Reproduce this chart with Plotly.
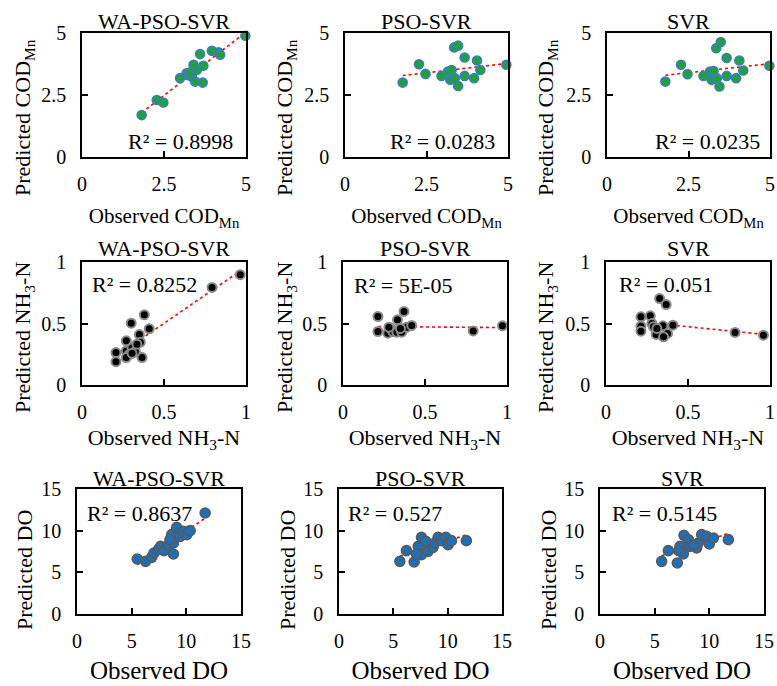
import numpy as np
import plotly.graph_objects as go

W, H = 777, 686
FONT = "Liberation Serif"

# ---------------- data ----------------
cod_wa_x = [1.82, 2.28, 2.48, 2.99, 3.19, 3.35, 3.40, 3.50, 3.45, 3.60, 3.68, 3.70, 3.96, 4.16, 4.21, 4.98, 3.25, 3.30]
cod_wa_y = [1.69, 2.30, 2.20, 3.18, 3.38, 3.24, 3.72, 3.51, 3.04, 4.15, 3.00, 3.68, 4.28, 4.22, 4.12, 4.89, 3.30, 3.42]

cod_pso_x = [1.77, 2.27, 2.47, 2.96, 3.16, 3.27, 3.23, 3.37, 3.35, 3.47, 3.47, 3.67, 3.67, 3.96, 4.05, 4.15, 4.95]
cod_pso_y = [3.00, 3.74, 3.35, 3.27, 3.45, 3.51, 3.11, 3.18, 4.42, 4.49, 2.86, 3.27, 4.01, 3.18, 3.89, 3.51, 3.72]

cod_svr_x = [1.79, 2.27, 2.47, 2.96, 3.16, 3.27, 3.21, 3.37, 3.35, 3.49, 3.45, 3.67, 3.67, 3.96, 4.06, 4.18, 4.98]
cod_svr_y = [3.04, 3.72, 3.34, 3.27, 3.45, 3.47, 3.11, 3.18, 4.39, 4.64, 2.84, 3.27, 3.99, 3.18, 3.89, 3.49, 3.68]

nh_wa_x = [0.965, 0.793, 0.207, 0.207, 0.27, 0.27, 0.30, 0.38, 0.41, 0.35, 0.356, 0.305, 0.285, 0.27, 0.366, 0.325, 0.305, 0.335]
nh_wa_y = [0.897, 0.793, 0.19, 0.264, 0.277, 0.359, 0.503, 0.571, 0.457, 0.41, 0.348, 0.30, 0.245, 0.223, 0.223, 0.272, 0.258, 0.332]

nh_pso_x = [0.213, 0.213, 0.273, 0.294, 0.304, 0.328, 0.332, 0.372, 0.358, 0.389, 0.419, 0.794, 0.972, 0.28, 0.35]
nh_pso_y = [0.557, 0.435, 0.421, 0.457, 0.435, 0.429, 0.53, 0.598, 0.429, 0.47, 0.484, 0.44, 0.481, 0.47, 0.46]

nh_svr_x = [0.213, 0.213, 0.213, 0.27, 0.28, 0.29, 0.306, 0.327, 0.367, 0.347, 0.375, 0.408, 0.351, 0.787, 0.96, 0.31]
nh_svr_y = [0.554, 0.478, 0.438, 0.562, 0.50, 0.473, 0.411, 0.703, 0.654, 0.481, 0.419, 0.486, 0.392, 0.427, 0.405, 0.46]

do_wa_x = [5.51, 6.27, 6.83, 7.04, 7.44, 7.65, 7.96, 8.36, 8.66, 8.82, 8.82, 9.12, 9.43, 9.73, 10.04, 10.35, 11.72, 8.5]
do_wa_y = [6.6, 6.32, 6.8, 7.32, 7.72, 8.12, 7.6, 8.24, 9.52, 7.2, 8.52, 10.4, 9.32, 9.92, 9.52, 10.0, 12.12, 8.92]

do_pso_x = [5.6, 6.21, 6.92, 7.29, 7.59, 7.59, 7.99, 8.2, 8.66, 8.82, 9.12, 9.43, 9.83, 10.04, 10.35, 11.72, 7.13]
do_pso_y = [6.32, 7.6, 6.24, 8.12, 7.12, 9.2, 8.72, 7.52, 8.0, 8.52, 9.2, 8.8, 9.2, 8.32, 8.8, 8.8, 7.2]

do_svr_x = [5.64, 6.25, 7.07, 7.32, 7.62, 7.68, 8.08, 8.23, 8.84, 8.99, 9.3, 9.76, 10.0, 10.37, 11.74, 7.2, 8.6]
do_svr_y = [6.32, 7.6, 6.12, 8.12, 7.2, 9.44, 8.92, 8.12, 7.92, 8.52, 9.52, 9.32, 8.4, 9.12, 8.92, 7.6, 8.3]

r2_labels = ["R² = 0.8998", "R² = 0.0283", "R² = 0.0235",
             "R² = 0.8252", "R² = 5E-05", "R² = 0.051",
             "R² = 0.8637", "R² = 0.527", "R² = 0.5145"]
model_names = ["WA-PSO-SVR", "PSO-SVR", "SVR"]

x_titles = ["Observed COD<sub>Mn</sub>", "Observed NH<sub>3</sub>-N", "Observed DO"]
y_titles = ["Predicted COD<sub>Mn</sub>", "Predicted NH<sub>3</sub>-N", "Predicted DO"]
tick_vals = [[0, 2.5, 5], [0, 0.5, 1], [0, 5, 10, 15]]
tick_text = [["0", "2.5", "5"], ["0", "0.5", "1"], ["0", "5", "10", "15"]]
ranges = [[0, 5], [0, 1], [0, 15]]

panels = [
    (cod_wa_x, cod_wa_y), (cod_pso_x, cod_pso_y), (cod_svr_x, cod_svr_y),
    (nh_wa_x, nh_wa_y), (nh_pso_x, nh_pso_y), (nh_svr_x, nh_svr_y),
    (do_wa_x, do_wa_y), (do_pso_x, do_pso_y), (do_svr_x, do_svr_y),
]

# ---------------- layout geometry (pixels) ----------------
row_y = [(33, 157), (262, 385), (489, 614)]
col_x = [[(82, 246), (345, 508), (607, 770)],
         [(82, 246), (343, 507), (606, 770)],
         [(77, 241), (339, 502), (600, 764)]]
ytitle_pos = [[(24, 118), (286, 118), (547, 118)],
              [(24, 338), (286, 338), (547, 338)],
              [(24, 570), (287, 570), (548, 570)]]
r2_pos = [  # (x_px, y_px, anchor)
    [(235, 141, "right"), (497, 141, "right"), (762, 141, "right")],
    [(90, 284, "left"), (352, 285, "left"), (617, 284, "left")],
    [(85, 513, "left"), (346, 513, "left"), (610, 513, "left")],
]
title_y = [22, 248, 478]
xtitle_size = [21, 22, 25]
xtitle_standoff = [15, 8, 11]

marker_styles = [
    dict(color="#22A03C", size=9, line=dict(color="#3B7DC4", width=1.6)),
    dict(color="#000000", size=9, line=dict(color="#8A8A8A", width=2)),
    dict(color="#1F6EB8", size=10, line=dict(color="#5A5A5A", width=1.6)),
]


def px(x):
    return x / W


def py(y):
    return 1 - y / H


fig = go.Figure()
annotations = []
layout = {}

for i, (xs, ys) in enumerate(panels):
    r, c = divmod(i, 3)
    n = i + 1
    xa = "x" if n == 1 else f"x{n}"
    ya = "y" if n == 1 else f"y{n}"
    xs_a = np.array(xs)
    ys_a = np.array(ys)
    slope, icpt = np.polyfit(xs_a, ys_a, 1)
    lx = np.array([xs_a.min(), xs_a.max()])
    fig.add_trace(go.Scatter(x=lx, y=slope * lx + icpt, mode="lines",
                             line=dict(color="#FF0000", width=1.6, dash="dot"),
                             xaxis=xa, yaxis=ya, showlegend=False, hoverinfo="skip"))
    fig.add_trace(go.Scatter(x=xs, y=ys, mode="markers", marker=marker_styles[r],
                             xaxis=xa, yaxis=ya, showlegend=False, cliponaxis=False))

    x0, x1 = col_x[r][c]
    y0, y1 = row_y[r]
    axcommon = dict(showline=True, linecolor="black", linewidth=1.5, mirror=True,
                    showgrid=False, zeroline=False, ticks="inside", ticklen=6,
                    tickwidth=1.5, tickcolor="black", automargin=False,
                    tickfont=dict(family=FONT, size=20, color="black"),
                    range=ranges[r], tickvals=tick_vals[r], ticktext=tick_text[r],
                    fixedrange=True)
    layout["xaxis" if n == 1 else f"xaxis{n}"] = dict(
        axcommon, domain=[px(x0), px(x1)], anchor=ya,
        title=dict(text=x_titles[r], font=dict(family=FONT, size=xtitle_size[r], color="black"),
                   standoff=xtitle_standoff[r]),
        ticklabelstandoff=8)
    layout["yaxis" if n == 1 else f"yaxis{n}"] = dict(
        axcommon, domain=[py(y1), py(y0)], anchor=xa, ticklabelstandoff=10)

    # model title
    annotations.append(dict(text=model_names[c], x=px((x0 + x1) / 2), y=py(title_y[r]),
                            xref="paper", yref="paper", showarrow=False,
                            xanchor="center", yanchor="middle",
                            font=dict(family=FONT, size=22, color="black")))
    # y title
    tx, ty = ytitle_pos[r][c]
    annotations.append(dict(text=y_titles[r], x=px(tx), y=py(ty), xref="paper", yref="paper",
                            showarrow=False, textangle=-90, xanchor="center", yanchor="middle",
                            font=dict(family=FONT, size=22, color="black")))
    # R2
    rx, ry, anc = r2_pos[r][c]
    annotations.append(dict(text=r2_labels[i], x=px(rx), y=py(ry), xref="paper", yref="paper",
                            showarrow=False, xanchor=anc, yanchor="middle",
                            font=dict(family=FONT, size=22, color="black")))

fig.update_layout(template="none", width=W, height=H, margin=dict(l=0, r=0, t=0, b=0, pad=0),
                  paper_bgcolor="white", plot_bgcolor="white",
                  font=dict(family=FONT, color="black"),
                  annotations=annotations, **layout)

fig.write_html("out.html", config={"displayModeBar": False},
               post_script="document.body.style.margin='0px';document.body.style.overflow='hidden';")
